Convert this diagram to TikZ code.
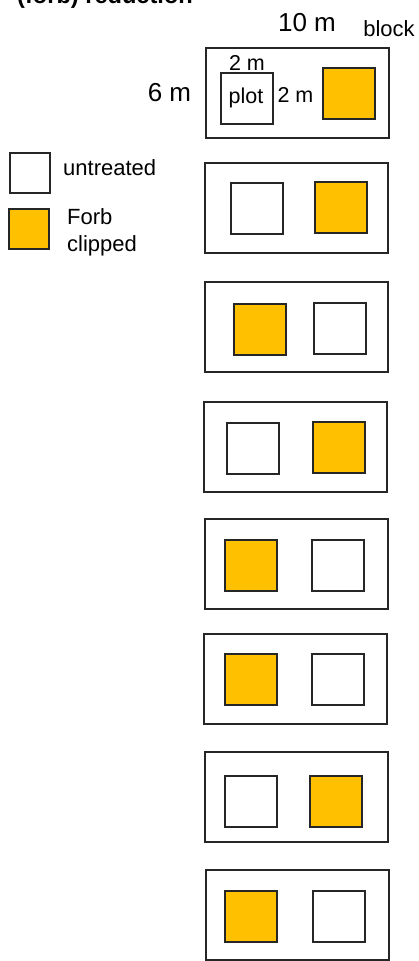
\documentclass[tikz,border=0pt]{standalone}
\usepackage{fontspec}
\setmainfont{Liberation Sans}
\definecolor{forb}{HTML}{FFC000}
\begin{document}
\begin{tikzpicture}[x=1pt,y=-1pt,
  blockbox/.style={draw=black!85,line width=2pt,rectangle,minimum width=183pt,minimum height=90pt,inner sep=0pt},
  plotw/.style={draw=black!85,line width=2pt,rectangle,fill=white,minimum width=52pt,minimum height=51pt,inner sep=0pt},
  ploto/.style={plotw,fill=forb},
  legw/.style={draw=black!85,line width=2pt,rectangle,fill=white,minimum width=40pt,minimum height=40pt,inner sep=0pt},
  lego/.style={legw,fill=forb},
  lbl/.style={inner sep=0pt,anchor=base west,font=\fontsize{22}{26}\selectfont},
  biglbl/.style={inner sep=0pt,anchor=base,font=\fontsize{26}{30}\selectfont},
  smlbl/.style={inner sep=0pt,anchor=base,font=\fontsize{21.5}{25}\selectfont}]
\useasboundingbox (0,0) rectangle (418,961);
\begin{scope}
\clip (0,0) rectangle (418,961);
\node[inner sep=0pt,anchor=base west,font=\bfseries\fontsize{23.6}{28}\selectfont] (title) at (17,3.5) {(forb) reduction};
\end{scope}
% labels
\node[biglbl] (tenm) at (307,31.5) {10 m};
\node[inner sep=0pt,anchor=base,font=\fontsize{22}{26}\selectfont] (blocklbl) at (389,36) {block};
\node[biglbl] (sixm) at (169.5,101.7) {6 m};
% block 1
\node[blockbox] (b1) at (297,92.5) {};
\node[plotw] (p1) at (246.5,98.5) {};
\node[smlbl] (plotlbl) at (246,103.5) {plot};
\node[smlbl] (twomtop) at (247,70.7) {2 m};
\node[smlbl] (twomright) at (295.5,102.5) {2 m};
\node[ploto] (o1) at (348.5,93) {};
% block 2
\node[blockbox] (b2) at (296.5,207.5) {};
\node[plotw] (w2) at (257,208.5) {};
\node[ploto] (o2) at (341,207.5) {};
% block 3
\node[blockbox] (b3) at (296,327) {};
\node[ploto] (o3) at (260,329.5) {};
\node[plotw] (w3) at (339.5,328) {};
% block 4
\node[blockbox] (b4) at (295.5,446.5) {};
\node[plotw] (w4) at (253,448) {};
\node[ploto] (o4) at (339,447) {};
% block 5
\node[blockbox] (b5) at (296,563.5) {};
\node[ploto] (o5) at (251,565.5) {};
\node[plotw] (w5) at (338,565.5) {};
% block 6
\node[blockbox] (b6) at (295.5,678.5) {};
\node[ploto] (o6) at (251,679.5) {};
\node[plotw] (w6) at (338,679.5) {};
% block 7
\node[blockbox] (b7) at (296,797) {};
\node[plotw] (w7) at (251,801.5) {};
\node[ploto] (o7) at (336,801.5) {};
% block 8
\node[blockbox] (b8) at (297.5,914.5) {};
\node[ploto] (o8) at (251,916.5) {};
\node[plotw] (w8) at (338.5,916.5) {};
% legend
\node[legw] (legw) at (30,173) {};
\node[lego] (lego) at (29,229) {};
\node[lbl] (untr) at (63,175) {untreated};
\node[lbl] (forbl) at (67,224) {Forb};
\node[lbl] (clip) at (67,251) {clipped};
\end{tikzpicture}
\end{document}
